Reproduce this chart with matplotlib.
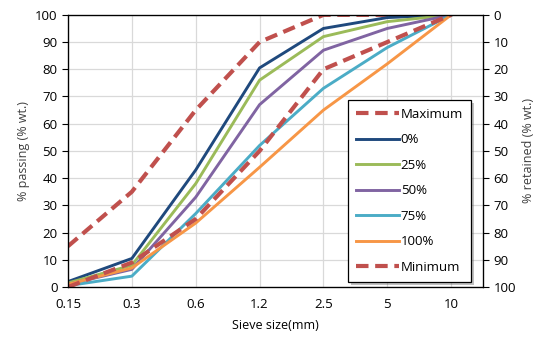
import matplotlib
matplotlib.use("Agg")
import matplotlib.pyplot as plt
import matplotlib.patheffects as pe
import numpy as np

plt.rcParams['font.family'] = ['Open Sans', 'DejaVu Sans']

sieve_labels = ["0.15", "0.3", "0.6", "1.2", "2.5", "5", "10"]
maximum = [15, 35, 65, 90, 100, 100, 100]
p0 = [2, 10.5, 43, 80.5, 95, 99, 100]
p25 = [1.5, 8, 38, 76, 92, 97.5, 100]
p50 = [1, 6.5, 33, 67, 87, 95, 100]
p75 = [0.5, 4, 27, 52, 73, 88, 100]
p100 = [1, 7, 23.5, 44, 65, 82, 100]
minimum = [0, 9, 25, 50, 80, 90, 100]

x = np.arange(len(sieve_labels))

fig = plt.figure(figsize=(5.44, 3.45), dpi=100)
ax = fig.add_axes([0.125, 0.168, 0.763, 0.789])

red = '#C0504D'
ax.plot(x, maximum, color=red, lw=3, ls=(0, (3, 1.6)), label='Maximum')
ax.plot(x, p0, color='#1F497D', lw=2.1, label='0%')
ax.plot(x, p25, color='#9BBB59', lw=2.1, label='25%')
ax.plot(x, p50, color='#8064A2', lw=2.1, label='50%')
ax.plot(x, p75, color='#4BACC6', lw=2.1, label='75%')
ax.plot(x, p100, color='#F79646', lw=2.1, label='100%')
ax.plot(x, minimum, color=red, lw=3, ls=(0, (3, 1.6)), label='Minimum')

ax.set_xlim(0, 6.5)
ax.set_ylim(0, 100)
ax.set_xticks(x)
ax.set_xticklabels(sieve_labels)
ax.set_yticks(np.arange(0, 101, 10))
ax.tick_params(axis='x', length=0, pad=8, labelsize=9.5)
ax.tick_params(axis='y', direction='out', length=4, labelsize=9.5)
ax.grid(True, color='#D9D9D9', lw=0.9)
ax.set_axisbelow(True)
ax.set_xlabel('Sieve size(mm)', fontsize=9, labelpad=6)
ax.set_ylabel('% passing (% wt.)', fontsize=9, color='#404040')
for s in ax.spines.values():
    s.set_color('black')
    s.set_linewidth(0.9)

ax2 = ax.twinx()
ax2.set_ylim(100, 0)
ax2.set_yticks(np.arange(0, 101, 10))
ax2.tick_params(axis='y', direction='out', length=4, labelsize=9.5)
ax2.set_ylabel('% retained (% wt.)', fontsize=9, color='#404040')

leg = ax.legend(loc='upper right', bbox_to_anchor=(0.971, 0.6875), fontsize=9.5,
                frameon=True, fancybox=False, edgecolor='black', framealpha=1,
                labelspacing=0.95, handlelength=3.3, handletextpad=0.1,
                borderpad=0.6, borderaxespad=0)
leg.get_frame().set_linewidth(0.9)
leg.set_zorder(5)
# soft shadow behind the legend box
leg.get_frame().set_path_effects([pe.SimplePatchShadow(offset=(2, -2), alpha=0.35), pe.Normal()])

fig.savefig('out.png', dpi=100)
